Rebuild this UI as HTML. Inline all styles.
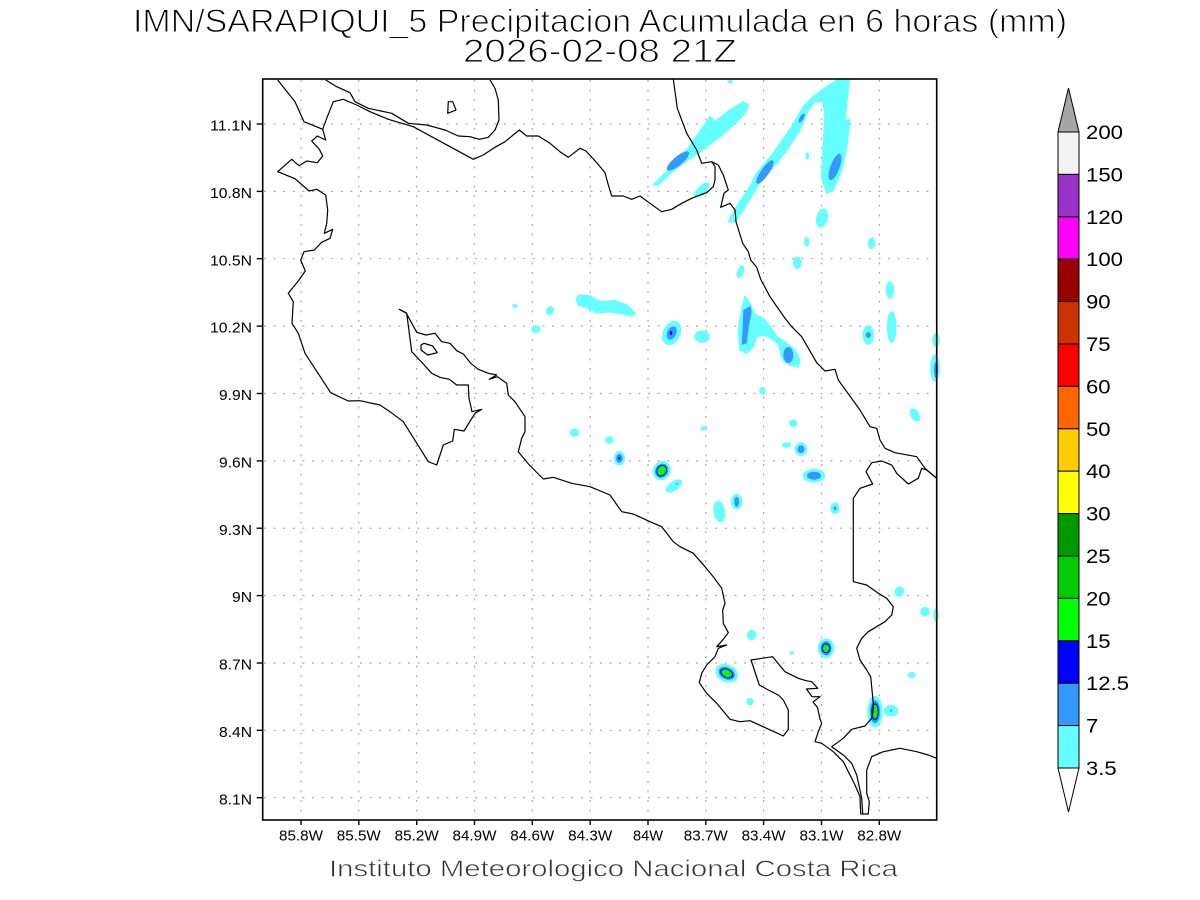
<!DOCTYPE html>
<html><head><meta charset="utf-8"><style>
html,body{margin:0;padding:0;background:#fff;}
svg{display:block;}
text{font-family:"Liberation Sans",sans-serif;}
</style></head><body>
<svg width="1200" height="900" viewBox="0 0 1200 900" xmlns="http://www.w3.org/2000/svg">
<rect x="0" y="0" width="1200" height="900" fill="#fff"/>

<!-- Title -->
<g stroke="#fff" stroke-width="1">
<text x="600" y="32" font-size="32" text-anchor="middle" textLength="934" lengthAdjust="spacingAndGlyphs" fill="#000">IMN/SARAPIQUI_5 Precipitacion Acumulada en 6 horas (mm)</text>
<text x="600" y="62" font-size="32" text-anchor="middle" textLength="274" lengthAdjust="spacingAndGlyphs" fill="#000">2026-02-08 21Z</text>
</g>

<!-- Grid -->
<g stroke="#aaa" stroke-width="1.2" stroke-dasharray="2 7.6" fill="none">
<line x1="301" y1="80" x2="301" y2="819"/>
<line x1="358.8" y1="80" x2="358.8" y2="819"/>
<line x1="416.7" y1="80" x2="416.7" y2="819"/>
<line x1="474.5" y1="80" x2="474.5" y2="819"/>
<line x1="532.3" y1="80" x2="532.3" y2="819"/>
<line x1="590.2" y1="80" x2="590.2" y2="819"/>
<line x1="648" y1="80" x2="648" y2="819"/>
<line x1="705.8" y1="80" x2="705.8" y2="819"/>
<line x1="763.6" y1="80" x2="763.6" y2="819"/>
<line x1="821.5" y1="80" x2="821.5" y2="819"/>
<line x1="879.3" y1="80" x2="879.3" y2="819"/>
<line x1="264" y1="797.7" x2="936" y2="797.7"/>
<line x1="264" y1="730.3" x2="936" y2="730.3"/>
<line x1="264" y1="663" x2="936" y2="663"/>
<line x1="264" y1="595.6" x2="936" y2="595.6"/>
<line x1="264" y1="528.2" x2="936" y2="528.2"/>
<line x1="264" y1="460.9" x2="936" y2="460.9"/>
<line x1="264" y1="393.5" x2="936" y2="393.5"/>
<line x1="264" y1="326.1" x2="936" y2="326.1"/>
<line x1="264" y1="258.7" x2="936" y2="258.7"/>
<line x1="264" y1="191.4" x2="936" y2="191.4"/>
<line x1="264" y1="124" x2="936" y2="124"/>
</g>

<!-- Precipitation -->
<g stroke-linejoin="round">
<g fill="#66ffff" stroke="#66ffff" stroke-width="1.5">
<polygon points="653.3,185 666.7,171.7 686.7,150 703.3,126.7 710,116.7 715,121.7 730,110 743.3,101.7 748.3,105 745,113.3 733.3,125 720,136.7 700,151.7 683.3,163.3 670,173.3 658.3,185"/>
<ellipse cx="701.7" cy="190" rx="9" ry="3.5" transform="rotate(-45 701.7 190)"/>
<polygon points="728.3,221.7 736.7,206.7 750,186.7 756.7,173.3 773.3,153.3 791.7,126.7 803.3,106.7 813.3,96.7 826.7,86.7 838,80 849.3,80 846.7,103.3 845,120 850,120 846.7,146.7 841.7,170 833.3,190 826.7,193.3 821.7,176.7 823.3,146.7 825,113.3 822.7,101.7 815,101.7 808.3,110 800,130 786.7,150 776.7,163.3 763.3,176.7 753.3,193.3 743.3,210 735,221.7"/>
<ellipse cx="822" cy="218" rx="5" ry="9" transform="rotate(15 822 218)"/>
<ellipse cx="806.7" cy="242" rx="2" ry="4"/>
<ellipse cx="871.7" cy="243.3" rx="3" ry="5"/>
<ellipse cx="797.3" cy="262.7" rx="3.5" ry="5.5"/>
<ellipse cx="740.5" cy="271.7" rx="2.5" ry="6" transform="rotate(20 740.5 271.7)"/>
<ellipse cx="890" cy="290" rx="3.5" ry="8"/>
<ellipse cx="891.7" cy="327" rx="4" ry="15"/>
<ellipse cx="868.3" cy="335" rx="5" ry="9"/>
<ellipse cx="936" cy="340" rx="3" ry="6"/>
<ellipse cx="935" cy="368" rx="4" ry="13"/>
<polygon points="745,296.7 750,303.3 755,315 763.3,318.3 770,326.7 776.7,336.7 786.7,343.3 795,350 800,360 798.3,366.7 790,365 782.7,360 778.3,343.3 768.3,336.7 763.3,335 756.7,336.7 753.3,346.7 746.7,353.3 740,350 738.3,330 741.7,310"/>
<ellipse cx="702" cy="336.7" rx="7" ry="5.5"/>
<ellipse cx="671.7" cy="333" rx="8" ry="12" transform="rotate(25 671.7 333)"/>
<polygon points="576,298.3 580,295 590,296 600,301.7 615,300.7 626.7,305 635,313.3 631.7,316 620,313.3 610,311.7 596.7,312.7 588.3,308.3 578.3,305"/>
<ellipse cx="550" cy="310.7" rx="3" ry="4" transform="rotate(30 550 310.7)"/>
<ellipse cx="515" cy="306" rx="2" ry="1.2"/>
<ellipse cx="536" cy="329.3" rx="4" ry="3"/>
<ellipse cx="574.3" cy="432.7" rx="4" ry="3.5"/>
<ellipse cx="609.3" cy="440" rx="3.5" ry="3"/>
<ellipse cx="619.3" cy="458.3" rx="5" ry="6.5"/>
<ellipse cx="661.7" cy="470.7" rx="8" ry="9" transform="rotate(30 661.7 470.7)"/>
<ellipse cx="674" cy="486" rx="8.5" ry="4" transform="rotate(-35 674 486)"/>
<ellipse cx="719.3" cy="511.7" rx="5" ry="10" transform="rotate(-10 719.3 511.7)"/>
<ellipse cx="736.7" cy="501.7" rx="5" ry="7"/>
<ellipse cx="704" cy="428.3" rx="3" ry="1.5"/>
<ellipse cx="762.5" cy="390.7" rx="2.5" ry="3"/>
<ellipse cx="793.3" cy="423.3" rx="3.5" ry="3"/>
<ellipse cx="786.7" cy="445" rx="4" ry="2"/>
<ellipse cx="801" cy="449.3" rx="5.5" ry="6"/>
<ellipse cx="814" cy="475.7" rx="10.5" ry="6"/>
<ellipse cx="915" cy="415" rx="3.5" ry="6.5" transform="rotate(-30 915 415)"/>
<ellipse cx="835" cy="508.3" rx="4" ry="5"/>
<ellipse cx="899.3" cy="591.7" rx="4" ry="4.5" transform="rotate(20 899.3 591.7)"/>
<ellipse cx="925" cy="611.7" rx="4" ry="4"/>
<ellipse cx="936" cy="615" rx="2" ry="6"/>
<ellipse cx="751.7" cy="635" rx="4" ry="4.5" transform="rotate(20 751.7 635)"/>
<ellipse cx="826" cy="648.3" rx="7.5" ry="9"/>
<ellipse cx="726.7" cy="673.3" rx="11" ry="8" transform="rotate(25 726.7 673.3)"/>
<ellipse cx="791.7" cy="652.7" rx="1.5" ry="1"/>
<ellipse cx="750" cy="701.7" rx="3" ry="3"/>
<ellipse cx="911.7" cy="675" rx="3" ry="2.5"/>
<ellipse cx="875" cy="711.7" rx="7" ry="15"/>
<ellipse cx="891" cy="710.7" rx="6.5" ry="5"/>
<ellipse cx="730" cy="81.7" rx="2" ry="1"/>
<ellipse cx="807.3" cy="156" rx="1" ry="3"/>
</g>
<g fill="#3399ff">
<ellipse cx="678" cy="161" rx="14" ry="4.5" transform="rotate(-40 678 161)"/>
<ellipse cx="765" cy="172" rx="14" ry="4" transform="rotate(-55 765 172)"/>
<ellipse cx="835" cy="167" rx="14" ry="4.5" transform="rotate(-70 835 167)"/>
<ellipse cx="801.7" cy="118" rx="5" ry="2" transform="rotate(-60 801.7 118)"/>
<ellipse cx="868.3" cy="335" rx="2.5" ry="3"/>
<ellipse cx="936" cy="370" rx="2" ry="8"/>
<polygon points="743.3,310 750.5,306 751.7,312 749,325 746.7,343.3 741.7,345 742.7,326.7"/>
<ellipse cx="788.3" cy="355" rx="5" ry="8"/>
<ellipse cx="671.7" cy="333" rx="4.5" ry="7" transform="rotate(25 671.7 333)"/>
<ellipse cx="619.3" cy="458.3" rx="3.2" ry="4.5"/>
<ellipse cx="661.7" cy="470.7" rx="6.3" ry="7.3" transform="rotate(30 661.7 470.7)"/>
<ellipse cx="677" cy="484" rx="1.2" ry="0.8"/>
<ellipse cx="736.7" cy="501.7" rx="2.5" ry="5"/>
<ellipse cx="801" cy="449.3" rx="3.5" ry="4"/>
<ellipse cx="814" cy="475.7" rx="7" ry="4"/>
<ellipse cx="835" cy="508.3" rx="1.5" ry="2"/>
<ellipse cx="826" cy="648.3" rx="5.5" ry="7"/>
<ellipse cx="726.7" cy="673.3" rx="8.5" ry="6" transform="rotate(25 726.7 673.3)"/>
<ellipse cx="875" cy="711.7" rx="5" ry="11.5"/>
<ellipse cx="891" cy="710.7" rx="1.2" ry="1"/>
</g>
<g fill="#0000ff">
<ellipse cx="671" cy="333" rx="1.2" ry="2"/>
<ellipse cx="619.3" cy="458.3" rx="1" ry="1.5"/>
<ellipse cx="661.7" cy="470.7" rx="5" ry="6" transform="rotate(30 661.7 470.7)"/>
<ellipse cx="826" cy="648.3" rx="4.3" ry="5"/>
<ellipse cx="726.7" cy="673.3" rx="7" ry="4.5" transform="rotate(25 726.7 673.3)"/>
<ellipse cx="875" cy="711.7" rx="3.7" ry="8.5"/>
</g>
<g fill="#00ff00">
<ellipse cx="661.7" cy="470.7" rx="4" ry="5" transform="rotate(35 661.7 470.7)"/>
<ellipse cx="826" cy="648.3" rx="3.2" ry="3.8"/>
<ellipse cx="726.7" cy="673.3" rx="5.5" ry="3.5" transform="rotate(25 726.7 673.3)"/>
<ellipse cx="875" cy="711.7" rx="2.7" ry="7"/>
</g>
</g>

<!-- Coastlines -->
<g fill="none" stroke="#000" stroke-width="1.2" stroke-linejoin="round">
<polyline points="277.7,80 295,101.7 304,121.7 322.7,129.3 325.7,140 317.3,136 311.7,141 319.3,149.3 322.7,156 317.3,162.7 306.7,161 299,165.7 291.7,159.3 277.7,171.7 295,178.7 309,191 316.7,189.3 325.7,195 327.7,210 326.7,223.3 324.3,233.3 332.7,229.3 330,238.3 321.7,242.3 314.3,250 304,251.7 300.7,260 305.3,271 299,280 288.3,293.3 293.3,301.7 292,323.3 298.3,333.3 305,353.3 330.7,392.7 348.3,401 360,400.7 380,405 390,411.7 403.3,421.7 428.3,461.7 436.7,465 443.3,445 452.7,441 454.3,429.3 464,431 475,413.3 481.7,409.3 472,411.7 469,398.3 468.3,385 456.7,385 449.3,379.3 440,377.3 431.7,373.3 423.3,364 411.7,351.7 406.7,313.3 399.3,309.3 406,312.7 416.7,332.3 426,335 435,333.3 441.7,341.7 450,343.3 456.7,350.7 463.3,354 470.7,363.3 478.3,369.3 488.3,373.3 496.7,375 489.3,379.3 497.3,376.7 506.7,383.3 508.3,395 515,401.7 525,416.7 525,431.7 521.7,438.3 518.3,451.7 529.3,465 543.3,479 553.3,477.3 571.7,483.3 590,486.7 610,495 621.7,511.7 633.3,514 650,521.7 661.7,526.7 673.3,541.7 680,546.7 693.3,553.3 705,566.7 713.3,576.7 721.7,588.3 725,603.3 722.7,610 723.3,623.3 728.3,632.7 723.3,639.3 716.7,646.7 726.7,645 718.3,648.3 715,656.7 706.7,665 701.7,673.3 699.3,682.7 706.7,693.3 716.7,703.3 730,719.3 740,721.7 750,720.7 783.3,736 788.3,729.3 788.3,710 783.3,700 778.3,695 768.3,690 759.3,685 751,660 772.7,656.7 776.7,661.7 785,671.7 798.3,678.3 806,680.7 811.7,681.7 817.7,688.3 806.5,689 812,696.7 820,696.7 813,702 817.5,707.5 820,719 821.7,723.3 818.3,731.7 815,741.7 821.7,743.3 833.3,751.7 843.3,761.7 848.3,771.7 855,785 860,796.7 860.7,814 868.3,814 869.3,801.7 866.7,793.3 866.7,770 871.7,756.7 883.3,751.7 900,748.3 916.7,751.7 928.3,755 936.7,758.3"/>
<polyline points="862.7,813.3 861.7,798.3 856.7,775 851.7,763.3 843.3,755 831.7,746.7 843.3,738.3 851.7,729.3 865,726 871.7,718.3 873.3,710 873.3,703.3 870.7,676.7 866.7,670 860,660 856.7,648.3 861.7,638.3 868.3,631.7 885,621.7 891.7,615 893.3,606.7 886.7,598.3 878.3,593.3 866.7,585 853.3,581.7 853.3,498.3 860,488.3 872.7,484 866,471.7 871.7,462.7 881.7,461 891.7,465 896.7,473.3 908.3,484 918.3,478.3 921.7,468.3 926.7,470 936.7,478.3"/>
<polyline points="322.7,129.3 326.7,118.3 333.3,101.7 343.3,99.3 356.7,105 370,111.7 388.3,119.3 413.3,126.7 473.3,159.3 483.3,155 495,147.3 505,141.7 519.3,130 526.7,136 538.3,136 550,143.3 560,151.7 568.3,157.3 580,148.3 586,151 597,163 605,172.7 608.3,185 611.7,196 623.3,196 631.7,199.3 640,196 650,203.3 661.7,211.7 671.7,209.3 681.7,203.3 691.7,198.3 700,195 706.7,192.7 713.3,186.7 715,180 715,166.7 711.7,161.7 701.7,163.3 696.7,150 686.7,133.3 677.3,108.3 673.3,79.3"/>
<polyline points="711.7,161.7 718.3,165 723.3,175 728.3,190 724,193.3 720.7,207.3 730,203.3 735,210 736,221.7 742.7,243.3 748.3,251.7 750.7,260 756.7,267.3 760.7,279.3 770,296.7 785,318.3 791.7,326.7 801.7,336.7 816.7,362.7 825,371 835,369.3 838.3,380 860,410 870,426.7 876.7,428.3 880,440 885,448.3 895,452.7 916.7,456.7 925,468.3 936.7,478.3"/>
<polyline points="325.7,80 336.7,86.7 350,92.7 355,101.7 368.3,108.3 391.7,113.3 408.3,123.3 426.7,125 445,130 458.3,136 470,136.7 479.3,139.3 488.3,137.3 495,130 499,120 498.3,100 495,88.3 490,80"/>
<polygon points="448.3,101.7 452.7,101.7 456,110 447.7,113.3"/>
<polygon points="421,345 424,343.3 432.7,346 437.3,352.7 427.7,355 421,350"/>
</g>

<!-- Frame -->
<rect x="262.7" y="79" width="674" height="741" fill="none" stroke="#000" stroke-width="1.6"/>

<!-- Ticks -->
<g stroke="#000" stroke-width="1.4">
<line x1="256.7" y1="797.7" x2="262.7" y2="797.7"/>
<line x1="256.7" y1="730.3" x2="262.7" y2="730.3"/>
<line x1="256.7" y1="663" x2="262.7" y2="663"/>
<line x1="256.7" y1="595.6" x2="262.7" y2="595.6"/>
<line x1="256.7" y1="528.2" x2="262.7" y2="528.2"/>
<line x1="256.7" y1="460.9" x2="262.7" y2="460.9"/>
<line x1="256.7" y1="393.5" x2="262.7" y2="393.5"/>
<line x1="256.7" y1="326.1" x2="262.7" y2="326.1"/>
<line x1="256.7" y1="258.7" x2="262.7" y2="258.7"/>
<line x1="256.7" y1="191.4" x2="262.7" y2="191.4"/>
<line x1="256.7" y1="124" x2="262.7" y2="124"/>
<line x1="301" y1="820" x2="301" y2="825"/>
<line x1="358.8" y1="820" x2="358.8" y2="825"/>
<line x1="416.7" y1="820" x2="416.7" y2="825"/>
<line x1="474.5" y1="820" x2="474.5" y2="825"/>
<line x1="532.3" y1="820" x2="532.3" y2="825"/>
<line x1="590.2" y1="820" x2="590.2" y2="825"/>
<line x1="648" y1="820" x2="648" y2="825"/>
<line x1="705.8" y1="820" x2="705.8" y2="825"/>
<line x1="763.6" y1="820" x2="763.6" y2="825"/>
<line x1="821.5" y1="820" x2="821.5" y2="825"/>
<line x1="879.3" y1="820" x2="879.3" y2="825"/>
</g>

<!-- Y labels -->
<g font-size="15" fill="#000" text-anchor="end">
<text x="252" y="804.3" textLength="33" lengthAdjust="spacingAndGlyphs">8.1N</text>
<text x="252" y="736.9" textLength="33" lengthAdjust="spacingAndGlyphs">8.4N</text>
<text x="252" y="669.6" textLength="33" lengthAdjust="spacingAndGlyphs">8.7N</text>
<text x="252" y="602.2" textLength="20" lengthAdjust="spacingAndGlyphs">9N</text>
<text x="252" y="534.8" textLength="33" lengthAdjust="spacingAndGlyphs">9.3N</text>
<text x="252" y="467.5" textLength="33" lengthAdjust="spacingAndGlyphs">9.6N</text>
<text x="252" y="400.1" textLength="33" lengthAdjust="spacingAndGlyphs">9.9N</text>
<text x="252" y="332.7" textLength="42" lengthAdjust="spacingAndGlyphs">10.2N</text>
<text x="252" y="265.3" textLength="42" lengthAdjust="spacingAndGlyphs">10.5N</text>
<text x="252" y="198" textLength="42" lengthAdjust="spacingAndGlyphs">10.8N</text>
<text x="252" y="130.6" textLength="42" lengthAdjust="spacingAndGlyphs">11.1N</text>
</g>

<!-- X labels -->
<g font-size="15" fill="#000" text-anchor="middle">
<text x="301" y="840.7" textLength="44" lengthAdjust="spacingAndGlyphs">85.8W</text>
<text x="358.8" y="840.7" textLength="44" lengthAdjust="spacingAndGlyphs">85.5W</text>
<text x="416.7" y="840.7" textLength="44" lengthAdjust="spacingAndGlyphs">85.2W</text>
<text x="474.5" y="840.7" textLength="44" lengthAdjust="spacingAndGlyphs">84.9W</text>
<text x="532.3" y="840.7" textLength="44" lengthAdjust="spacingAndGlyphs">84.6W</text>
<text x="590.2" y="840.7" textLength="44" lengthAdjust="spacingAndGlyphs">84.3W</text>
<text x="648" y="840.7" textLength="30" lengthAdjust="spacingAndGlyphs">84W</text>
<text x="705.8" y="840.7" textLength="44" lengthAdjust="spacingAndGlyphs">83.7W</text>
<text x="763.6" y="840.7" textLength="44" lengthAdjust="spacingAndGlyphs">83.4W</text>
<text x="821.5" y="840.7" textLength="44" lengthAdjust="spacingAndGlyphs">83.1W</text>
<text x="879.3" y="840.7" textLength="44" lengthAdjust="spacingAndGlyphs">82.8W</text>
</g>

<!-- Footer -->
<text x="329" y="876.7" font-size="23" fill="#333" stroke="#fff" stroke-width="0.6" textLength="569" lengthAdjust="spacingAndGlyphs">Instituto Meteorologico Nacional Costa Rica</text>

<!-- Colorbar -->
<g stroke="#000" stroke-width="1">
<polygon points="1058,132 1068.5,88 1079,132" fill="#a6a6a6"/>
<rect x="1058" y="132" width="21" height="42.4" fill="#f2f2f2"/>
<rect x="1058" y="174.4" width="21" height="42.4" fill="#9933cc"/>
<rect x="1058" y="216.8" width="21" height="42.4" fill="#ff00ff"/>
<rect x="1058" y="259.2" width="21" height="42.4" fill="#990000"/>
<rect x="1058" y="301.6" width="21" height="42.4" fill="#cc3300"/>
<rect x="1058" y="344" width="21" height="42.4" fill="#ff0000"/>
<rect x="1058" y="386.4" width="21" height="42.4" fill="#ff6600"/>
<rect x="1058" y="428.8" width="21" height="42.4" fill="#ffcc00"/>
<rect x="1058" y="471.2" width="21" height="42.4" fill="#ffff00"/>
<rect x="1058" y="513.6" width="21" height="42.4" fill="#009900"/>
<rect x="1058" y="556" width="21" height="42.4" fill="#00cc00"/>
<rect x="1058" y="598.4" width="21" height="42.4" fill="#00ff00"/>
<rect x="1058" y="640.8" width="21" height="42.4" fill="#0000ff"/>
<rect x="1058" y="683.2" width="21" height="42.4" fill="#3399ff"/>
<rect x="1058" y="725.6" width="21" height="42.4" fill="#66ffff"/>
<polygon points="1058,768 1068.5,812 1079,768" fill="#ffffff"/>
</g>
<g font-size="19" fill="#000">
<text x="1086" y="139" textLength="37" lengthAdjust="spacingAndGlyphs">200</text>
<text x="1086" y="181.4" textLength="37" lengthAdjust="spacingAndGlyphs">150</text>
<text x="1086" y="223.8" textLength="37" lengthAdjust="spacingAndGlyphs">120</text>
<text x="1086" y="266.2" textLength="37" lengthAdjust="spacingAndGlyphs">100</text>
<text x="1086" y="308.6" textLength="24.6" lengthAdjust="spacingAndGlyphs">90</text>
<text x="1086" y="351" textLength="24.6" lengthAdjust="spacingAndGlyphs">75</text>
<text x="1086" y="393.4" textLength="24.6" lengthAdjust="spacingAndGlyphs">60</text>
<text x="1086" y="435.8" textLength="24.6" lengthAdjust="spacingAndGlyphs">50</text>
<text x="1086" y="478.2" textLength="24.6" lengthAdjust="spacingAndGlyphs">40</text>
<text x="1086" y="520.6" textLength="24.6" lengthAdjust="spacingAndGlyphs">30</text>
<text x="1086" y="563" textLength="24.6" lengthAdjust="spacingAndGlyphs">25</text>
<text x="1086" y="605.4" textLength="24.6" lengthAdjust="spacingAndGlyphs">20</text>
<text x="1086" y="647.8" textLength="24.6" lengthAdjust="spacingAndGlyphs">15</text>
<text x="1086" y="690.2" textLength="43" lengthAdjust="spacingAndGlyphs">12.5</text>
<text x="1086" y="732.6" textLength="12.3" lengthAdjust="spacingAndGlyphs">7</text>
<text x="1086" y="775" textLength="30.6" lengthAdjust="spacingAndGlyphs">3.5</text>
</g>
</svg>
</body></html>
